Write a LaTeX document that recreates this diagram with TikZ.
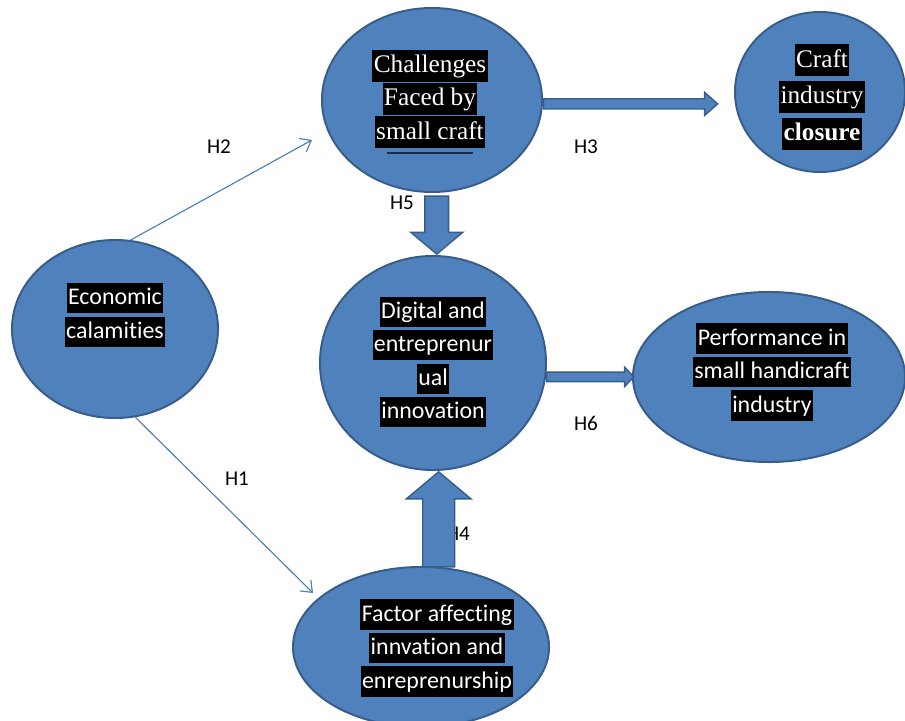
\documentclass[tikz,border=0pt]{standalone}
\usepackage{fontspec}
\setmainfont{Liberation Serif}
\newfontfamily\calibri[Ligatures=NoCommon]{Carlito}
\usepackage{xcolor}
\usetikzlibrary{shapes.geometric,shapes.arrows,arrows.meta}
\definecolor{blobfill}{HTML}{4F81BD}
\definecolor{blobline}{HTML}{385D8A}
\definecolor{linkblue}{HTML}{4A7EBB}
\definecolor{darknavy}{HTML}{1F2A44}
\newcommand{\hl}[1]{{\setlength{\fboxsep}{1pt}\colorbox{black}{\rule[-0.3em]{0pt}{1.15em}#1}}}

\begin{document}
\begin{tikzpicture}[x=0.025cm, y=-0.025cm,
  blob/.style={ellipse, draw=blobline, line width=1.4pt, fill=blobfill, inner sep=0pt},
  sanstext/.style={align=center, text=white, font=\calibri\fontsize{17}{23.8}\selectfont},
  seriftext/.style={align=center, text=white, font=\fontsize{18}{23.5}\selectfont},
  hyp/.style={font=\calibri\fontsize{15}{17}\selectfont, text=black},
  thinlink/.style={linkblue, line width=0.8pt, -{Straight Barb[length=7pt,width=11pt]}},
  blockarrow/.style={single arrow, draw=blobline, line width=1pt, fill=blobfill, minimum width=0pt, inner xsep=0pt}]
  \useasboundingbox (0,0) rectangle (905,721);

  % ellipses
  \node[blob, minimum width=5.5cm, minimum height=4.6cm] (ch) at (432,100) {};
  \node[blob, minimum width=4.25cm, minimum height=4cm] (cl) at (820,92) {};
  \node[blob, minimum width=5.15cm, minimum height=4.45cm] (ec) at (115,329) {};
  \node[blob, minimum width=5.65cm, minimum height=5.35cm] (di) at (433,363) {};
  \node[blob, minimum width=6.8cm, minimum height=4.25cm] (pe) at (769,377) {};
  \node[blob, minimum width=6.4cm, minimum height=4cm] (fa) at (421,647) {};

  % texts
  \node[seriftext] (ch-txt) at (430,99) {\hl{Challenges}\\\hl{Faced by}\\\hl{small craft}};
  \draw[darknavy, line width=1.5pt] (387,153) -- (473,153);
  \node[seriftext, font=\fontsize{18}{26}\selectfont] (cl-txt) at (822,97) {\hl{Craft}\\\hl{industry}\\\hl{\bfseries closure}};
  \node[sanstext] (ec-txt) at (115,315) {\hl{Economic}\\\hl{calamities}};
  \node[sanstext] (di-txt) at (433,362) {\hl{Digital and}\\\hl{entreprenur}\\\hl{ual}\\\hl{innovation}};
  \node[sanstext] (pe-txt) at (772,372) {\hl{Performance in}\\\hl{small handicraft}\\\hl{industry}};
  \node[sanstext] (fa-txt) at (437,648) {\hl{Factor affecting}\\\hl{innvation and}\\\hl{enreprenurship}};

  % thin links
  \coordinate (h2tip) at (312,140);
  \coordinate (h1tip) at (313,593);
  \draw[thinlink] (ec.80) -- (h2tip);
  \draw[thinlink] (ec.-77) -- (h1tip);

  % labels
  \node[hyp] (h1) at (237,479) {H1};
  \node[hyp] (h2) at (219,147) {H2};
  \node[hyp] (h3) at (586,147) {H3};
  \node[hyp] (h4) at (458,534) {H4};
  \node[hyp] (h5) at (402,203) {H5};
  \node[hyp] (h6) at (586,423) {H6};

  % block arrows
  \node[blockarrow, minimum height=4.35cm, inner ysep=0.11cm, single arrow head extend=0.16cm,
    single arrow tip angle=83, anchor=tail] (ch-cl) at (ch.-2) {};
  \node[blockarrow, minimum height=2.175cm, inner ysep=0.1cm, single arrow head extend=0.125cm,
    single arrow tip angle=93, anchor=tail] (di-pe) at (di.-7) {};
  \node[blockarrow, minimum height=1.45cm, inner ysep=0.28cm, single arrow head extend=0.35cm,
    single arrow tip angle=100, anchor=tip, rotate=-90] (ch-di) at (di.88) {};
  \node[blockarrow, minimum height=2.375cm, inner ysep=0.38cm, single arrow head extend=0.41cm,
    single arrow tip angle=100, anchor=tip, rotate=90] (fa-di) at (di.-87) {};
\end{tikzpicture}
\end{document}
